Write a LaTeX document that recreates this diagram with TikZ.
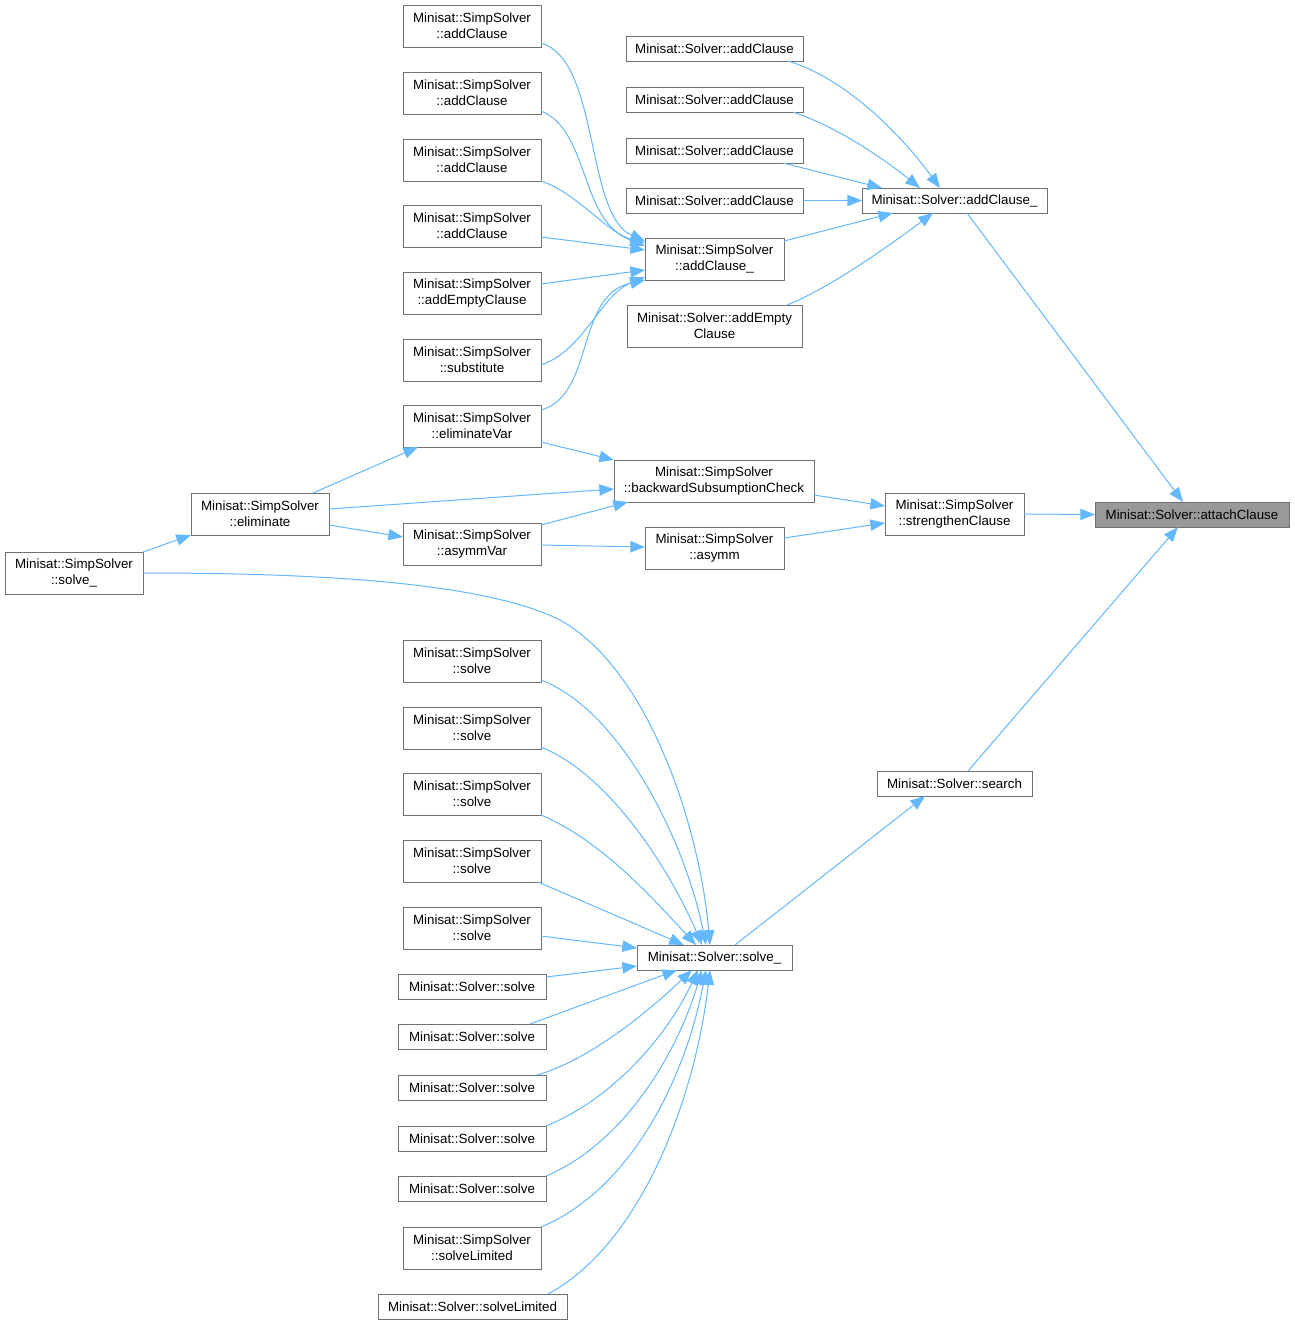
\documentclass[tikz,border=0pt]{standalone}
\usepackage{fontspec}
\setmainfont{Liberation Sans}
\usetikzlibrary{calc,arrows.meta}
\definecolor{edgeblue}{HTML}{63B8FF}
\definecolor{boxborder}{HTML}{707070}
\definecolor{hilite}{HTML}{999999}
\tikzset{
  box/.style={draw=boxborder, line width=0.75pt, fill=white, inner sep=0pt, outer sep=0pt,
    align=center, font=\fontsize{10pt}{12pt}\selectfont, text=black},
  edg/.style={draw=edgeblue, line width=0.75pt, -{Triangle[length=11pt,width=8.5pt]}}
}
\newcommand{\bx}[7][]{%
  \node[box,#1,minimum width={(#5-#3)*0.75pt}, minimum height={(#6-#4)*0.75pt}]
    (#2) at ({(#3+#5)/2},{(#4+#6)/2+1}) {#7};}
\begin{document}
\begin{tikzpicture}[x=0.75pt,y=-0.75pt]
\useasboundingbox[fill=white] (0,0) rectangle (1295,1325);
% left column
\bx{sa1}{403}{4}{541}{46}{Minisat::SimpSolver\\::addClause}
\bx{sa2}{403}{71}{541}{113}{Minisat::SimpSolver\\::addClause}
\bx{sa3}{403}{138}{541}{180}{Minisat::SimpSolver\\::addClause}
\bx{sa4}{403}{204}{541}{246}{Minisat::SimpSolver\\::addClause}
\bx{sa5}{403}{271}{541}{313}{Minisat::SimpSolver\\::addEmptyClause}
\bx{sub}{403}{338}{541}{380}{Minisat::SimpSolver\\::substitute}
\bx{ev}{403}{404}{541}{446}{Minisat::SimpSolver\\::eliminateVar}
\bx{elim}{191}{492}{329}{534}{Minisat::SimpSolver\\::eliminate}
\bx{ssolve}{5}{551}{143}{593}{Minisat::SimpSolver\\::solve\_}
\bx{av}{403}{522}{541}{564}{Minisat::SimpSolver\\::asymmVar}
\bx{s1}{403}{639}{541}{681}{Minisat::SimpSolver\\::solve}
\bx{s2}{403}{706}{541}{748}{Minisat::SimpSolver\\::solve}
\bx{s3}{403}{772}{541}{814}{Minisat::SimpSolver\\::solve}
\bx{s4}{403}{839}{541}{881}{Minisat::SimpSolver\\::solve}
\bx{s5}{403}{906}{541}{948}{Minisat::SimpSolver\\::solve}
\bx{v1}{398}{973}{546}{998}{Minisat::Solver::solve}
\bx{v2}{398}{1023}{546}{1048}{Minisat::Solver::solve}
\bx{v3}{398}{1074}{546}{1099}{Minisat::Solver::solve}
\bx{v4}{398}{1125}{546}{1150}{Minisat::Solver::solve}
\bx{v5}{398}{1175}{546}{1200}{Minisat::Solver::solve}
\bx{sl}{403}{1226}{541}{1268}{Minisat::SimpSolver\\::solveLimited}
\bx{vl}{378}{1293}{567}{1318}{Minisat::Solver::solveLimited}
% middle column
\bx{ac1}{626}{35}{803}{60}{Minisat::Solver::addClause}
\bx{ac2}{626}{86}{803}{111}{Minisat::Solver::addClause}
\bx{ac3}{626}{137}{803}{162}{Minisat::Solver::addClause}
\bx{ac4}{626}{187}{803}{212}{Minisat::Solver::addClause}
\bx{sac}{645}{237}{784}{279}{Minisat::SimpSolver\\::addClause\_}
\bx{aec}{627}{304}{802}{346}{Minisat::Solver::addEmpty\\Clause}
\bx{bsc}{614}{459}{814}{501}{Minisat::SimpSolver\\::backwardSubsumptionCheck}
\bx{asym}{645}{526}{784}{568}{Minisat::SimpSolver\\::asymm}
\bx{vsolve}{637}{944}{792}{969}{Minisat::Solver::solve\_}
% right column
\bx{vac}{862}{187}{1047}{212}{Minisat::Solver::addClause\_}
\bx{str}{885}{492}{1024}{534}{Minisat::SimpSolver\\::strengthenClause}
\bx{search}{877}{770}{1032}{795}{Minisat::Solver::search}
\bx[fill=hilite]{attach}{1095}{501}{1289}{526}{Minisat::Solver::attachClause}
% edges into SimpSolver::addClause_
\draw[edg] ($(sa1.south east)+(0,-4)$) .. controls (600,60) and (585,215) .. ($(sac.north west)+(0,3)$);
\draw[edg] ($(sa2.south east)+(0,-3)$) .. controls (590,130) and (580,225) .. ($(sac.north west)+(0,5)$);
\draw[edg] (sa3.south east) .. controls (575,192) and (605,230) .. ($(sac.north west)+(0,8)$);
\draw[edg] ($(sa4.south east)+(0,-10)$) -- ($(sac.west)+(0,-9)$);
\draw[edg] ($(sa5.north east)+(0,12)$) -- ($(sac.west)+(0,11)$);
\draw[edg] ($(sub.south east)+(0,-16)$) .. controls (585,350) and (600,295) .. ($(sac.south west)+(0,-3)$);
\draw[edg] ($(ev.north east)+(0,5)$) .. controls (595,395) and (575,295) .. (sac.south west);
% edges into Solver::addClause_
\draw[edg] ($(ac1.south east)+(-15,0)$) .. controls (850,80) and (905,140) .. ($(vac.north west)+(78,0)$);
\draw[edg] ($(ac2.south east)+(-10,0)$) .. controls (840,128) and (885,160) .. ($(vac.north west)+(58,0)$);
\draw[edg] ($(ac3.south east)+(-20,0)$) -- ($(vac.north west)+(20,0)$);
\draw[edg] (ac4.east) -- (vac.west);
\draw[edg] ($(sac.north east)+(0,3)$) -- ($(vac.south west)+(31,0)$);
\draw[edg] ($(aec.north east)+(-15,0)$) .. controls (830,288) and (890,245) .. ($(vac.south west)+(71,0)$);
% into attachClause
\draw[edg] ($(vac.south west)+(105,0)$) -- ($(attach.north west)+(88,0)$);
\draw[edg] (str.east) -- (attach.west);
\draw[edg] ($(search.north west)+(91,0)$) -- ($(attach.south west)+(83,0)$);
% into strengthenClause
\draw[edg] ($(bsc.south east)+(0,-7)$) -- ($(str.north west)+(0,13)$);
\draw[edg] ($(asym.north east)+(0,11)$) -- ($(str.south west)+(0,-12)$);
% into backwardSubsumptionCheck / asymm
\draw[edg] ($(ev.south east)+(0,-5)$) -- (bsc.north west);
\draw[edg] ($(elim.east)+(0,-5)$) -- ($(bsc.west)+(0,8)$);
\draw[edg] ($(av.north east)+(0,2)$) -- ($(bsc.south west)+(14,0)$);
\draw[edg] ($(av.east)+(0,1)$) -- ($(asym.west)+(0,-1)$);
% from eliminate / solve_
\draw[edg] ($(elim.north east)+(-16,0)$) -- ($(ev.south west)+(15,0)$);
\draw[edg] ($(elim.south east)+(0,-10)$) -- ($(av.west)+(0,-7)$);
\draw[edg] (ssolve.north east) -- (elim.south west);
\draw[edg] (ssolve.east) .. controls (300,573) and (480,580) .. (560,620) .. controls (650,670) and (700,830) .. ($(vsolve.north west)+(73,0)$);
% into Solver::solve_
\draw[edg] ($(s1.south east)+(0,-2)$) .. controls (620,710) and (685,840) .. ($(vsolve.north west)+(69,0)$);
\draw[edg] ($(s2.south east)+(0,-2)$) .. controls (610,775) and (670,870) .. ($(vsolve.north west)+(65,0)$);
\draw[edg] (s3.south east) .. controls (600,840) and (650,895) .. ($(vsolve.north west)+(59,0)$);
\draw[edg] ($(s4.south east)+(-3,0)$) -- ($(vsolve.north west)+(47,0)$);
\draw[edg] ($(s5.south east)+(0,-13)$) -- ($(vsolve.north west)+(0,3)$);
\draw[edg] ($(v1.north east)+(0,3)$) -- ($(vsolve.south west)+(0,-4)$);
\draw[edg] ($(v2.north east)+(-16,0)$) -- ($(vsolve.south west)+(40,0)$);
\draw[edg] ($(v3.north east)+(-9,0)$) .. controls (590,1060) and (650,1010) .. ($(vsolve.south west)+(55,0)$);
\draw[edg] (v4.north east) .. controls (610,1100) and (665,1040) .. ($(vsolve.south west)+(61,0)$);
\draw[edg] (v5.north east) .. controls (620,1145) and (675,1060) .. ($(vsolve.south west)+(65,0)$);
\draw[edg] (sl.north east) .. controls (630,1190) and (685,1080) .. ($(vsolve.south west)+(69,0)$);
\draw[edg] ($(vl.north east)+(-19,0)$) .. controls (640,1245) and (695,1100) .. ($(vsolve.south west)+(73,0)$);
\draw[edg] ($(vsolve.north west)+(98,0)$) -- ($(search.south west)+(48,0)$);
\end{tikzpicture}
\end{document}
